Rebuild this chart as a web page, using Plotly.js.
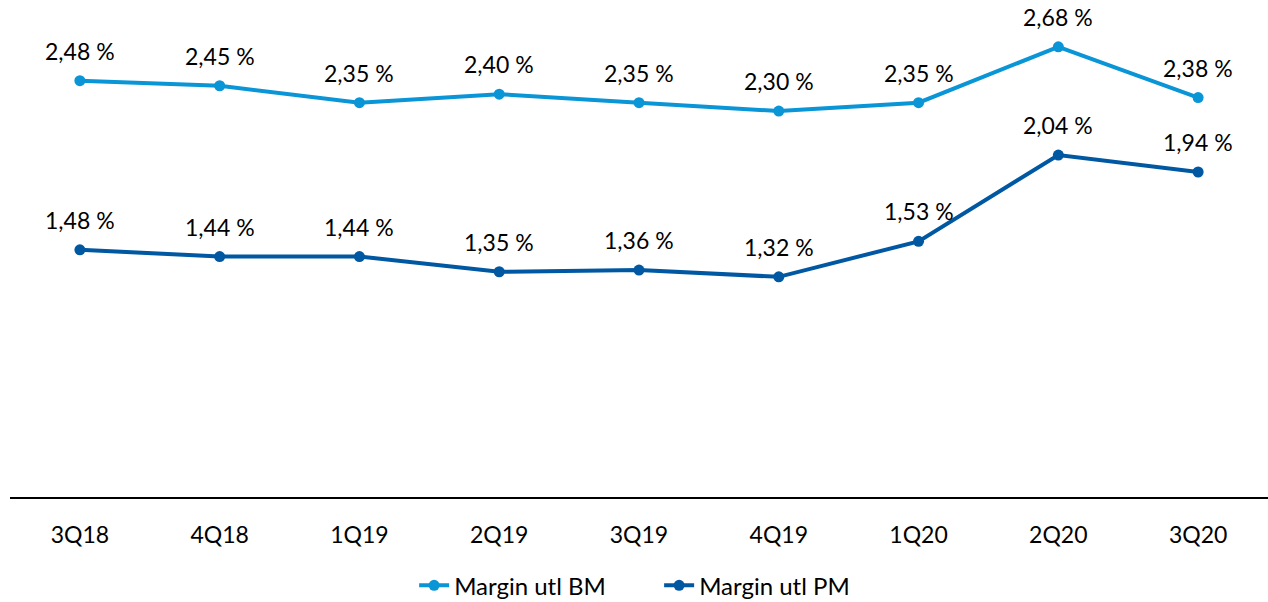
<!DOCTYPE html>
<html>
<head>
<meta charset="utf-8">
<script src="https://cdn.plot.ly/plotly-3.0.1.min.js"></script>
<style>html,body{margin:0;padding:0;background:#fff;}#chart{width:1268px;height:602px;}</style>
</head>
<body>
<div id="chart"></div>
<script>
const quarters = ["3Q18","4Q18","1Q19","2Q19","3Q19","4Q19","1Q20","2Q20","3Q20"];
const marginBM = [2.48, 2.45, 2.35, 2.40, 2.35, 2.30, 2.35, 2.68, 2.38];
const marginPM = [1.48, 1.44, 1.44, 1.35, 1.36, 1.32, 1.53, 2.04, 1.94];
const seriesNames = ["Margin utl BM", "Margin utl PM"];

const fmt = v => v.toFixed(2).replace('.', ',') + ' %';
const FONT = 'Lato, "Open Sans", sans-serif';

function trace(name, vals, color) {
  return {
    type: 'scatter', mode: 'lines+markers',
    name: name, x: quarters, y: vals,
    line: {color: color, width: 4},
    marker: {color: color, size: 11},
    cliponaxis: false
  };
}

const data = [
  trace(seriesNames[0], marginBM, '#0a95d6'),
  trace(seriesNames[1], marginPM, '#0058a2')
];

const annotations = [];
[marginBM, marginPM].forEach(vals => {
  vals.forEach((v, i) => {
    annotations.push({
      x: quarters[i], y: v, xref: 'x', yref: 'y',
      text: fmt(v), showarrow: false, yshift: 30,
      font: {family: FONT, size: 23, color: '#000'}
    });
  });
});

const layout = {
  width: 1268, height: 602,
  margin: {l: 10, r: 0, t: 10, b: 105, autoexpand: false},
  paper_bgcolor: '#fff', plot_bgcolor: '#fff',
  font: {family: FONT, size: 23, color: '#000'},
  showlegend: true,
  legend: {orientation: 'h', x: 0.516, xanchor: 'center', yref: 'container', y: 0.027, yanchor: 'middle',
           entrywidth: 200, entrywidthmode: 'pixels',
           font: {family: FONT, size: 24, color: '#000'}},
  annotations: annotations,
  xaxis: {type: 'category', range: [-0.5, 8.5], showgrid: false, zeroline: false,
          showline: true, linecolor: '#000', linewidth: 2, ticks: '',
          ticklabelstandoff: 16, tickfont: {family: FONT, size: 23, color: '#000'}, fixedrange: true},
  yaxis: {range: [0.018, 2.898], showgrid: false, zeroline: false, showline: false,
          showticklabels: false, ticks: '', fixedrange: true}
};

Plotly.newPlot('chart', data, layout, {displayModeBar: false, staticPlot: true});
</script>
</body>
</html>
